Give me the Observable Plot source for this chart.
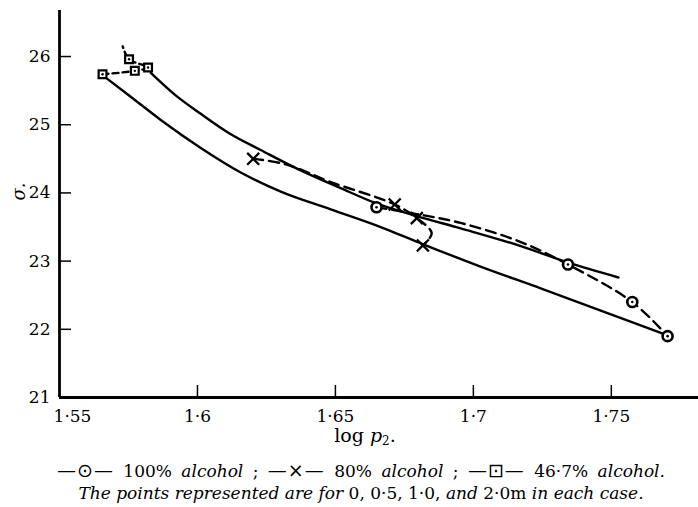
<!DOCTYPE html>
<html><head><meta charset="utf-8">
<script src="https://cdn.jsdelivr.net/npm/d3@7"></script>
<script src="https://cdn.jsdelivr.net/npm/@observablehq/plot@0.6"></script>
<style>
body{margin:0;background:#fff;color:#000;font-family:"DejaVu Serif",serif}
#wrap{position:relative;width:698px;height:507px;overflow:hidden}
#chart{position:absolute;left:0;top:0}
.ylab{position:absolute;left:9px;top:181px;font-size:18px;font-style:italic;transform:rotate(-90deg);transform-origin:center}
.xlab{position:absolute;left:16px;width:698px;top:424px;text-align:center;font-size:19px}
.xlab sub{font-size:12px;vertical-align:-3px}
.cap{position:absolute;left:12px;width:698px;text-align:center;font-size:17px;line-height:18px;white-space:nowrap}
.cap i{font-style:italic}
.c1{word-spacing:4px}
.sym{font-family:"DejaVu Sans",sans-serif;font-size:19px;letter-spacing:1px;word-spacing:0}
</style>
</head><body>
<div id="wrap">
<div id="chart"></div>
<div class="ylab">σ.</div>
<div class="xlab">log <i>p</i><sub>2</sub>.</div>
<div class="cap c1" style="top:461px"><span class="sym">—⊙—</span> 100% <i>alcohol</i> ; <span class="sym">—×—</span> 80% <i>alcohol</i> ; <span class="sym">—⊡—</span> 46·7% <i>alcohol.</i></div>
<div class="cap" style="top:484px"><i>The points represented are for</i> 0, 0·5, 1·0, <i>and</i> 2·0m <i>in each case.</i></div>
</div>
<script>
// ---- data ----
const xTicks = [1.55, 1.6, 1.65, 1.7, 1.75];
const yTicks = [21, 22, 23, 24, 25, 26];

// 100% alcohol (circles)
const logp100 = [1.6649, 1.7343, 1.7576, 1.7704];
const sigma100 = [23.79, 22.95, 22.40, 21.90];
// 80% alcohol (crosses)
const logp80 = [1.6202, 1.6715, 1.6795, 1.6817];
const sigma80 = [24.50, 23.83, 23.63, 23.23];
// 46.7% alcohol (squares)
const logp467 = [1.5656, 1.5773, 1.5821, 1.5752];
const sigma467 = [25.74, 25.79, 25.84, 25.96];

// dashed connecting curves (through the points, as drawn)
const dash100X = [1.6649, 1.6795, 1.6954, 1.7172, 1.7343, 1.7576, 1.7704];
const dash100Y = [23.79, 23.69, 23.56, 23.28, 22.95, 22.40, 21.90];
const dash80X = [1.6202, 1.6320, 1.6483, 1.6715, 1.6795, 1.6849, 1.6817];
const dash80Y = [24.50, 24.42, 24.16, 23.83, 23.63, 23.41, 23.23];
const dash467X = [1.5656, 1.5773, 1.5821, 1.5752, 1.5729];
const dash467Y = [25.74, 25.79, 25.84, 25.96, 26.15];

// solid smooth curves
const upperX = [1.5831, 1.5921, 1.6012, 1.6121, 1.6229, 1.6374, 1.6519, 1.6646, 1.6795, 1.6954, 1.7172, 1.7342, 1.7526];
const upperY = [25.76, 25.43, 25.16, 24.86, 24.63, 24.33, 24.07, 23.85, 23.66, 23.48, 23.22, 22.98, 22.76];
const lowerX = [1.5671, 1.5758, 1.5867, 1.6012, 1.6157, 1.6302, 1.6483, 1.6664, 1.6816, 1.7026, 1.7244, 1.7704];
const lowerY = [25.68, 25.41, 25.07, 24.66, 24.30, 24.02, 23.76, 23.50, 23.25, 22.92, 22.60, 21.91];

const zip = (xs, ys) => xs.map((x, i) => ({x, y: ys[i]}));
const fmt = d => String(d).replace(".", "·");

const xDomain = [1.55, 1.7816];
const yDomain = [21, 26.675];

const lw = 2.4;
const dash = "10,6";

const chart = Plot.plot({
  width: 698, height: 425,
  marginTop: 10, marginBottom: 28, marginLeft: 59, marginRight: 0,
  x: {domain: xDomain},
  y: {domain: yDomain},
  style: {fontFamily: "DejaVu Serif", fontSize: "17px", background: "white", color: "black"},
  marks: [
    Plot.axisX({ticks: xTicks.slice(0, 1), tickSize: 0, tickPadding: 12, dx: 13, tickFormat: fmt, label: null}),
    Plot.axisX({ticks: xTicks.slice(1), tickSize: 0, tickPadding: 12, tickFormat: fmt, label: null}),
    Plot.axisX({ticks: xTicks.slice(1), tickSize: -12, tickFormat: () => "", label: null, strokeWidth: 1.5}),
    Plot.axisY({ticks: yTicks, tickSize: 0, tickPadding: 9, tickFormat: fmt, label: null}),
    Plot.axisY({ticks: yTicks.slice(1), tickSize: -12, tickFormat: () => "", label: null, strokeWidth: 1.5}),
    Plot.ruleX([xDomain[0]], {strokeWidth: 2.8}),
    Plot.ruleY([yDomain[0]], {strokeWidth: 2.8}),
    Plot.line(zip(upperX, upperY), {x: "x", y: "y", curve: "monotone-x", strokeWidth: lw}),
    Plot.line(zip(lowerX, lowerY), {x: "x", y: "y", curve: "monotone-x", strokeWidth: lw}),
    Plot.line(zip(dash100X, dash100Y), {x: "x", y: "y", curve: "catmull-rom", strokeWidth: lw, strokeDasharray: dash}),
    Plot.line(zip(dash80X, dash80Y), {x: "x", y: "y", curve: "catmull-rom", strokeWidth: lw, strokeDasharray: dash}),
    Plot.line(zip(dash467X, dash467Y), {x: "x", y: "y", curve: "catmull-rom", strokeWidth: lw, strokeDasharray: "6,4"}),
    Plot.dot(zip(logp100, sigma100), {x: "x", y: "y", r: 5, stroke: "black", fill: "white", strokeWidth: 2.6}),
    Plot.dot(zip(logp100, sigma100), {x: "x", y: "y", r: 1.3, fill: "black"}),
    Plot.dot(zip(logp80, sigma80), {x: "x", y: "y", symbol: "times", r: 5.5, stroke: "black", strokeWidth: 2.3}),
    Plot.dot(zip(logp467, sigma467), {x: "x", y: "y", symbol: "square", r: 4.4, stroke: "black", fill: "white", strokeWidth: 2.2}),
    Plot.dot(zip(logp467, sigma467), {x: "x", y: "y", r: 1.2, fill: "black"})
  ]
});
document.getElementById("chart").appendChild(chart);
</script>
</body></html>
